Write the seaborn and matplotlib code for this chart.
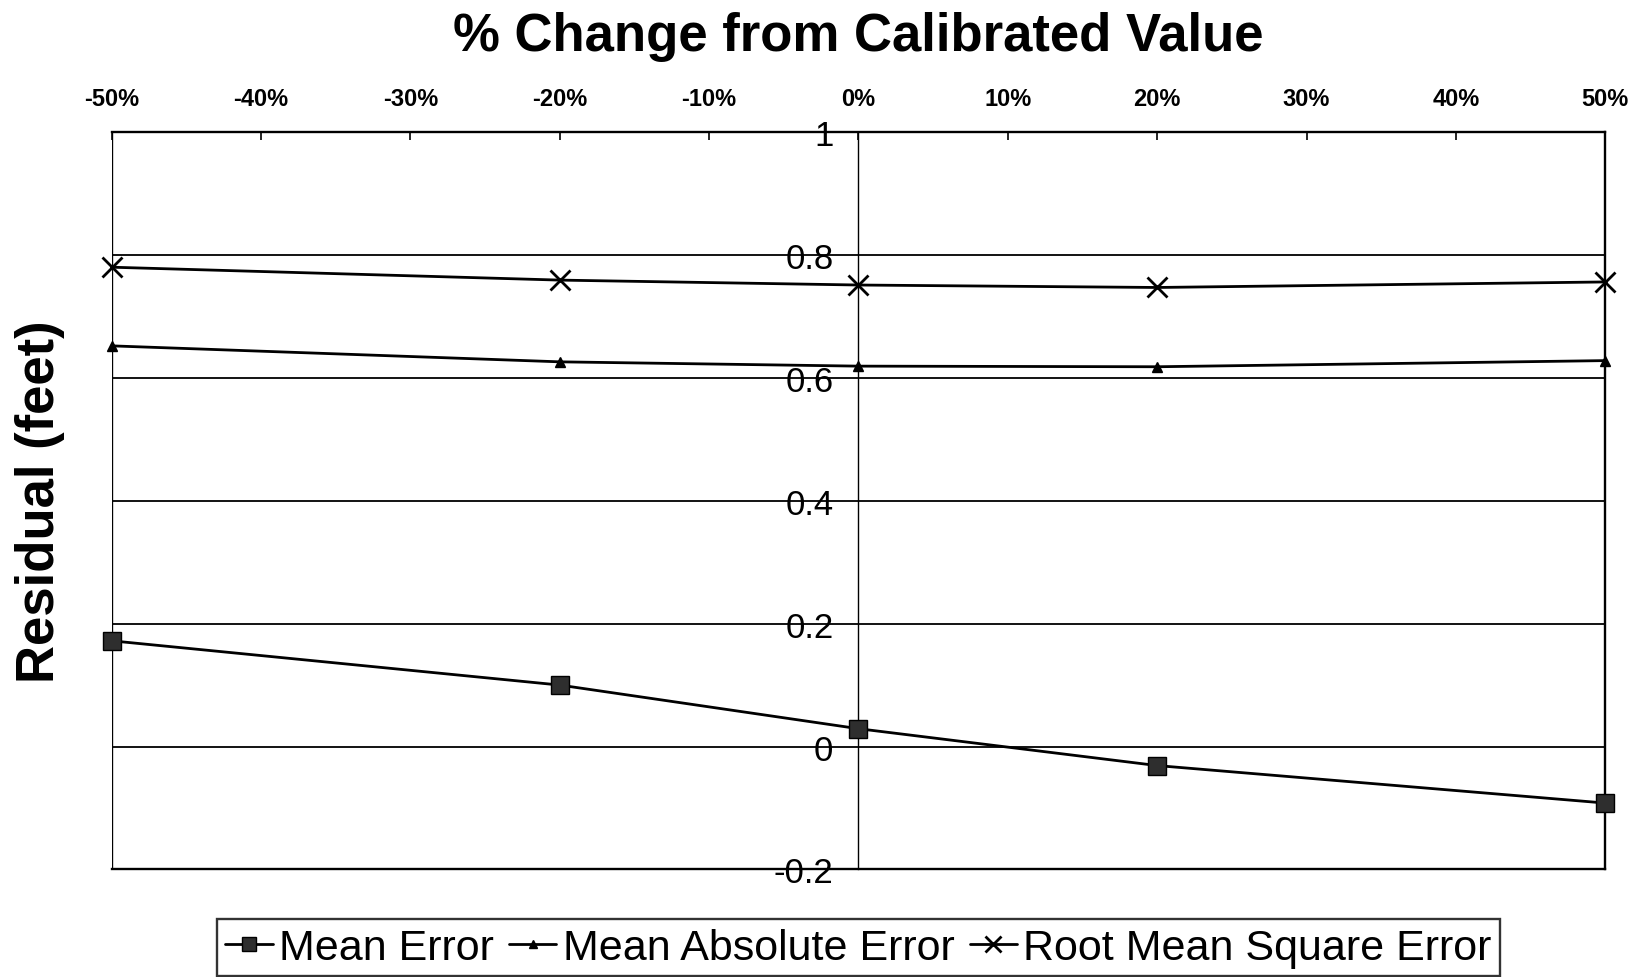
import matplotlib
matplotlib.use("Agg")
import matplotlib.pyplot as plt
import pandas as pd
import seaborn as sns
from matplotlib.ticker import FuncFormatter

# Sensitivity of calibration residuals to parameter change
pct_change = [-50, -20, 0, 20, 50]
mean_error = [0.172, 0.100, 0.029, -0.031, -0.092]
mean_abs_error = [0.652, 0.626, 0.619, 0.618, 0.628]
rms_error = [0.780, 0.759, 0.751, 0.747, 0.756]
series_names = ["Mean Error", "Mean Absolute Error", "Root Mean Square Error"]
x_ticks = list(range(-50, 51, 10))
y_ticks = [-0.2, 0, 0.2, 0.4, 0.6, 0.8, 1]

df = pd.DataFrame({
    "change": pct_change * 3,
    "residual": mean_error + mean_abs_error + rms_error,
    "series": [n for n in series_names for _ in pct_change],
})

sns.set_theme(style="white")
plt.rcParams["font.family"] = ["Liberation Sans", "DejaVu Sans"]
plt.rcParams.update({
    "text.color": "black",
    "axes.labelcolor": "black",
    "xtick.color": "black",
    "ytick.color": "black",
})

fig, ax = plt.subplots(figsize=(16.43, 9.78), dpi=100)
fig.subplots_adjust(left=0.068, right=0.977, top=0.864, bottom=0.110)

marker_styles = {
    "Mean Error": dict(marker="s", markersize=13, markerfacecolor="#2e2e2e",
                       markeredgecolor="black", markeredgewidth=1),
    "Mean Absolute Error": dict(marker="^", markersize=7, markerfacecolor="black",
                                markeredgecolor="black", markeredgewidth=1),
    "Root Mean Square Error": dict(marker="x", markersize=15, markeredgewidth=2,
                                   markeredgecolor="black"),
}

for name in series_names:
    sub = df[df["series"] == name]
    sns.lineplot(data=sub, x="change", y="residual", ax=ax, color="black",
                 linewidth=2.0, errorbar=None, label=name, zorder=3,
                 clip_on=False, **marker_styles[name])

ax.set_xlim(-50, 50)
ax.set_ylim(-0.2, 1.0)

# x axis along the top, percent labels
ax.xaxis.tick_top()
ax.set_xticks(x_ticks)
ax.xaxis.set_major_formatter(FuncFormatter(lambda v, _: f"{v:.0f}%"))
ax.tick_params(axis="x", which="both", top=True, bottom=False, direction="in",
               length=6, width=1.2, color="black", pad=16, labelsize=17,
               labelcolor="black")
for lab in ax.get_xticklabels():
    lab.set_fontweight("bold")
ax.set_xlabel("")

# value axis crosses at 0%
ax.spines["left"].set_position(("data", 0))
ax.spines["left"].set_linewidth(1.0)
ax.set_yticks(y_ticks)
ax.yaxis.set_major_formatter(FuncFormatter(lambda v, _: f"{v:g}"))
ax.tick_params(axis="y", length=0, pad=18, labelsize=25, labelcolor="black")

ax.yaxis.grid(True, color="black", linewidth=1.3)
ax.xaxis.grid(False)
for side in ["top", "right", "bottom"]:
    ax.spines[side].set_visible(True)
    ax.spines[side].set_color("black")
    ax.spines[side].set_linewidth(1.7)
ax.spines["left"].set_color("black")
ax.axvline(-50, color="black", linewidth=1.7, zorder=2)

ax.set_ylabel("Residual (feet)", fontsize=38, fontweight="bold", color="black",
              va="center")
ax.yaxis.set_label_coords(-0.048, 0.5)

fig.suptitle("% Change from Calibrated Value", x=0.5225, y=1 - 37 / 978,
             va="center", fontsize=38, fontweight="bold", color="black")

handles, labels = ax.get_legend_handles_labels()
ax.get_legend().remove()
leg = fig.legend(handles, labels, loc="upper center", ncol=3,
                 bbox_to_anchor=(0.5225, 1 - 920 / 978),
                 prop={"size": 31},
                 frameon=True, fancybox=False, edgecolor="black",
                 handlelength=1.1, handletextpad=0.15, columnspacing=0.35,
                 borderpad=0.2, markerscale=0.75, borderaxespad=0)
leg.get_frame().set_linewidth(1.7)
for t in leg.get_texts():
    t.set_color("black")

fig.savefig("out.png", dpi=100)
